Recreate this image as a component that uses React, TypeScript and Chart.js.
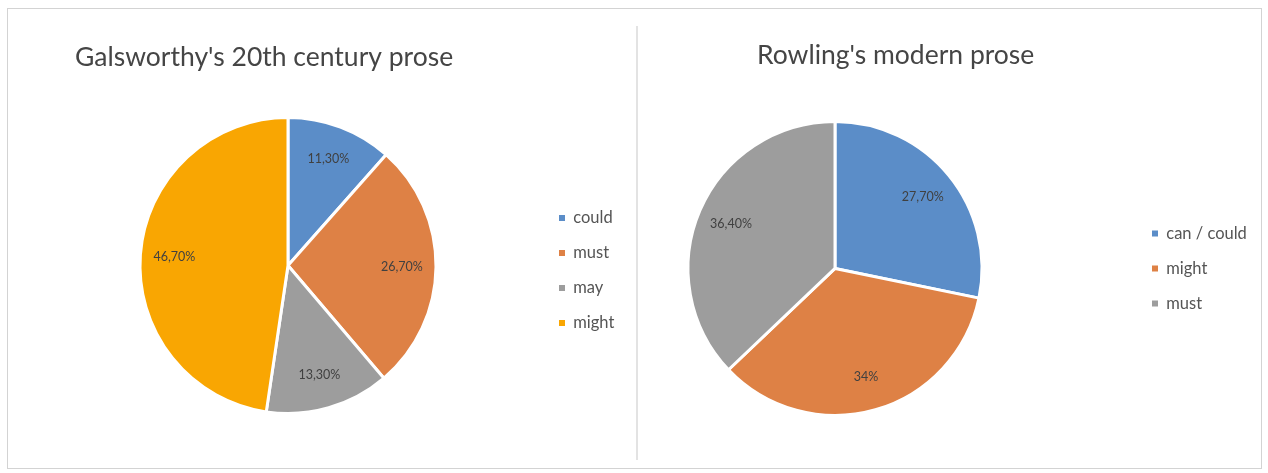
import React, { useEffect, useRef } from 'react';
import { Chart, registerables } from 'chart.js';

Chart.register(...registerables);

// ---- data ----
const galsworthyTitle = "Galsworthy's 20th century prose";
const galsworthyLabels = ['could', 'must', 'may', 'might'];
const galsworthyValues = [11.3, 26.7, 13.3, 46.7];
const galsworthyColors = ['#5b8dc8', '#de8145', '#9d9d9d', '#f9a602'];

const rowlingTitle = "Rowling's modern prose";
const rowlingLabels = ['can / could', 'might', 'must'];
const rowlingValues = [27.7, 34, 36.4];
const rowlingColors = ['#5b8dc8', '#de8145', '#9d9d9d'];

// ---- style ----
const FONT = 'Lato, "Open Sans", sans-serif';
const TITLE_SIZE = 26.5;
const LEGEND_SIZE = 16.5;
const LABEL_SIZE = 12.5;
const TITLE_COLOR = '#454545';
const LEGEND_COLOR = '#555555';
const LABEL_COLOR = '#404040';
const LABEL_RADIUS = 0.77;
const BOX = 6;

function fmtPct(v: number) {
  return (Number.isInteger(v) ? String(v) : v.toFixed(2).replace('.', ',')) + '%';
}

function measure(text: string, font: string) {
  const c = document.createElement('canvas').getContext('2d')!;
  c.font = font;
  return c.measureText(text).width;
}

const sliceLabels = {
  id: 'sliceLabels',
  afterDatasetsDraw(chart: any) {
    const ctx = chart.ctx;
    const meta = chart.getDatasetMeta(0);
    const data = chart.data.datasets[0].data as number[];
    ctx.save();
    ctx.font = `normal ${LABEL_SIZE}px ${FONT}`;
    ctx.fillStyle = LABEL_COLOR;
    ctx.textAlign = 'center';
    ctx.textBaseline = 'middle';
    meta.data.forEach((arc: any, i: number) => {
      const p = arc.getProps(['x', 'y', 'startAngle', 'endAngle', 'outerRadius'], true);
      const mid = (p.startAngle + p.endAngle) / 2;
      const r = p.outerRadius * LABEL_RADIUS;
      ctx.fillText(fmtPct(data[i]), p.x + Math.cos(mid) * r, p.y + Math.sin(mid) * r);
    });
    ctx.restore();
  },
};

type PieSpec = {
  title: string;
  labels: string[];
  values: number[];
  colors: string[];
  width: number;
  height: number;
  titleLeft: number;
  titleMid: number;
  cx: number;
  cy: number;
  radius: number;
  legendDotLeft: number;
  legendPad: number;
  legendShift: number;
};

function makeConfig(s: PieSpec): any {
  const lh = TITLE_SIZE * 1.2;
  const padL = s.titleLeft;
  const padT = s.titleMid - lh / 2;
  const caTop = s.titleMid + lh / 2;
  const caBottom = 2 * s.cy - caTop;
  const padB = s.height - caBottom;
  const caRight = 2 * s.cx - padL;
  const legendLeft = s.legendDotLeft - s.legendPad;
  const spacer = Math.max(1, legendLeft - caRight);
  const lf = `normal ${LEGEND_SIZE}px ${FONT}`;
  const itemW = Math.max(...s.labels.map((t) => BOX + LEGEND_SIZE / 2 + measure(t, lf)));
  const legendW = s.legendPad + itemW + 10;
  const padR = s.width - legendLeft - legendW;

  return {
    type: 'pie',
    data: {
      labels: s.labels,
      datasets: [
        {
          data: s.values,
          backgroundColor: s.colors,
          borderColor: '#ffffff',
          borderWidth: 3,
          radius: s.radius,
          clip: false,
        },
      ],
    },
    options: {
      responsive: false,
      animation: false,
      events: [],
      layout: { padding: { left: padL, top: padT, right: padR, bottom: padB } },
      plugins: {
        tooltip: { enabled: false },
        title: {
          display: true,
          text: s.title,
          align: 'start',
          position: 'top',
          fullSize: true,
          color: TITLE_COLOR,
          padding: 0,
          font: { family: FONT, size: TITLE_SIZE, weight: 'normal', lineHeight: 1.2 },
        },
        subtitle: {
          display: true,
          text: '',
          position: 'right',
          weight: 500,
          fullSize: false,
          font: { size: 1, lineHeight: 1 },
          padding: { top: spacer - 1, bottom: 0 },
        },
        legend: {
          display: true,
          position: 'right',
          align: 'center',
          fullSize: false,
          maxWidth: 400,
          title: {
            display: s.legendShift > 0,
            text: ' ',
            font: { size: 1, lineHeight: 1 },
            padding: { top: 0, bottom: Math.max(0, s.legendShift * 2 - 1) },
          },
          labels: {
            usePointStyle: true,
            pointStyle: 'rect',
            boxWidth: BOX,
            boxHeight: BOX,
            padding: s.legendPad,
            color: LEGEND_COLOR,
            font: { family: FONT, size: LEGEND_SIZE, weight: 'normal' },
            generateLabels: (chart: any) =>
              chart.data.labels.map((l: string, i: number) => ({
                text: l,
                fillStyle: s.colors[i],
                strokeStyle: s.colors[i],
                lineWidth: 0,
                pointStyle: 'rect',
                fontColor: LEGEND_COLOR,
                hidden: false,
                index: i,
              })),
          },
        },
      },
    },
    plugins: [sliceLabels],
  };
}

const leftSpec: PieSpec = {
  title: galsworthyTitle,
  labels: galsworthyLabels,
  values: galsworthyValues,
  colors: galsworthyColors,
  width: 626,
  height: 456,
  titleLeft: 65,
  titleMid: 47,
  cx: 278,
  cy: 255.5,
  radius: 148,
  legendDotLeft: 549,
  legendPad: 18.5,
  legendShift: 5,
};

const rightSpec: PieSpec = {
  title: rowlingTitle,
  labels: rowlingLabels,
  values: rowlingValues,
  colors: rowlingColors,
  width: 620,
  height: 456,
  titleLeft: 117,
  titleMid: 45,
  cx: 195,
  cy: 261,
  radius: 147,
  legendDotLeft: 512,
  legendPad: 18.5,
  legendShift: 0,
};

function PieCanvas({ spec, left, top }: { spec: PieSpec; left: number; top: number }) {
  const ref = useRef<HTMLCanvasElement>(null);
  useEffect(() => {
    const chart = new Chart(ref.current as HTMLCanvasElement, makeConfig(spec));
    return () => chart.destroy();
  }, []);
  return (
    <canvas
      ref={ref}
      width={spec.width}
      height={spec.height}
      style={{ position: 'absolute', left, top, width: spec.width, height: spec.height }}
    />
  );
}

export default function App() {
  return (
    <div
      style={{
        position: 'absolute',
        left: 0,
        top: 0,
        width: 1268,
        height: 473,
        background: '#ffffff',
        overflow: 'hidden',
      }}
    >
      <div
        style={{
          position: 'absolute',
          left: 7,
          top: 8,
          width: 1255,
          height: 461,
          border: '1px solid #d3d3d3',
          boxSizing: 'border-box',
        }}
      />
      <div style={{ position: 'absolute', left: 636, top: 26, width: 2, height: 434, background: '#e3e3e3' }} />
      <PieCanvas spec={leftSpec} left={10} top={10} />
      <PieCanvas spec={rightSpec} left={640} top={10} />
    </div>
  );
}
